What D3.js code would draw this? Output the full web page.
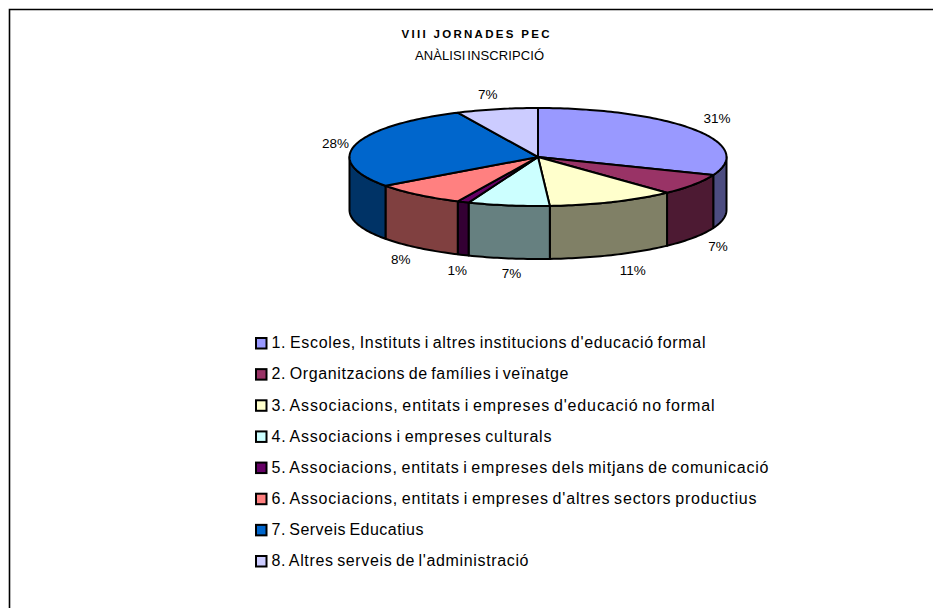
<!DOCTYPE html>
<html>
<head>
<meta charset="utf-8">
<script src="https://cdnjs.cloudflare.com/ajax/libs/d3/7.8.5/d3.min.js"></script>
<style>
    html, body { margin: 0; padding: 0; background: #fff; }
    svg { display: block; }
    text { font-family: "Liberation Sans", Arial, sans-serif; fill: #000; }
</style>
</head>
<body>
<script>
const width = 933;
const height = 608;

const categories = [
    "1. Escoles, Instituts i altres institucions d'educació formal",
    "2. Organitzacions de famílies i veïnatge",
    "3. Associacions, entitats i empreses d'educació no formal",
    "4. Associacions i empreses culturals",
    "5. Associacions, entitats i empreses dels mitjans de comunicació",
    "6. Associacions, entitats i empreses d'altres sectors productius",
    "7. Serveis Educatius",
    "8. Altres serveis de l'administració"
];
const values = [31, 7, 11, 7, 1, 8, 28, 7];
const top_colors = ['#9999ff', '#993366', '#ffffcc', '#ccffff', '#660066', '#ff8080', '#0066cc', '#ccccff'];
const side_colors = ['#4c4c80', '#4d1a33', '#808066', '#668080', '#330033', '#804040', '#003366', '#666680'];

// nudges of the % labels away from the rim of their slice
const label_nudge = [[23, -11], [24, 8], [20, 15], [3, 15], [-6, 15], [-17, 11], [-20, -2], [-9, -15]];
// legend text runs wider on some rows than others, so fit each one
const legend_text_width = [434, 297, 443, 280, 497, 485, 152, 257];

// pie geometry, tilted ellipse plus wall height
const cx = 538, cy = 157, rx = 188.5, ry = 49, depth = 53;

const svg = d3.select('body').append('svg')
    .attr('width', width)
    .attr('height', height);

// the frame only has its top and left edges, the rest is cropped away
svg.append('path')
    .attr('d', d3.line()([[9.5, height], [9.5, 9.5], [width, 9.5]]))
    .attr('fill', 'none')
    .attr('stroke', '#000')
    .attr('stroke-width', 1.6);

svg.append('text')
    .attr('x', 401.5).attr('y', 37.5)
    .style('font-size', '11.5px')
    .style('font-weight', 'bold')
    .style('letter-spacing', '2.3px')
    .text('VIII JORNADES PEC');

svg.append('text')
    .attr('x', 415).attr('y', 59.5)
    .style('font-size', '13px')
    .style('letter-spacing', '0.1px')
    .style('word-spacing', '-2px')
    .text('ANÀLISI INSCRIPCIÓ');

const arcs = d3.pie().sort(null)(values);

const px = (a) => cx + rx * Math.sin(a);
const py = (a) => cy - ry * Math.cos(a);

function rim(a0, a1) {
    const n = Math.max(2, Math.ceil((a1 - a0) / 0.02));
    return d3.range(n + 1).map((i) => a0 + (a1 - a0) * i / n);
}

const line = d3.line();

// walls of the slices facing the viewer
const walls = arcs
    .map((d, i) => ({
        i: i,
        a0: Math.max(d.startAngle, Math.PI / 2),
        a1: Math.min(d.endAngle, Math.PI * 3 / 2)
    }))
    .filter((d) => d.a1 > d.a0);

svg.append('g').selectAll('path')
    .data(walls)
    .enter()
    .append('path')
        .attr('d', (d) => {
            const upper = rim(d.a0, d.a1).map((a) => [px(a), py(a)]);
            const lower = rim(d.a0, d.a1).reverse().map((a) => [px(a), py(a) + depth]);
            return line(upper.concat(lower)) + 'Z';
        })
        .attr('fill', (d) => side_colors[d.i])
        .attr('stroke', '#000')
        .attr('stroke-width', 2)
        .attr('stroke-linejoin', 'round');

svg.append('g').selectAll('path')
    .data(arcs)
    .enter()
    .append('path')
        .attr('d', (d) => {
            const pts = rim(d.startAngle, d.endAngle).map((a) => [px(a), py(a)]);
            return line([[cx, cy]].concat(pts)) + 'Z';
        })
        .attr('fill', (d, i) => top_colors[i])
        .attr('stroke', '#000')
        .attr('stroke-width', 2)
        .attr('stroke-linejoin', 'round');

svg.append('g').selectAll('text')
    .data(arcs)
    .enter()
    .append('text')
        .attr('x', (d, i) => px((d.startAngle + d.endAngle) / 2) + label_nudge[i][0])
        .attr('y', (d, i) => {
            const mid = (d.startAngle + d.endAngle) / 2;
            const front = Math.cos(mid) < 0 ? depth : 0;
            return py(mid) + front + label_nudge[i][1] + 5;
        })
        .attr('text-anchor', 'middle')
        .style('font-size', '13.5px')
        .text((d) => d.value + '%');

const legend_y = d3.scalePoint()
    .domain(categories)
    .range([343, 561]);

const legend = svg.append('g').selectAll('g')
    .data(categories)
    .enter()
    .append('g')
        .attr('transform', (d) => `translate(256,${legend_y(d)})`);

legend.append('rect')
    .attr('y', -5)
    .attr('width', 10.5).attr('height', 10.5)
    .attr('fill', (d, i) => top_colors[i])
    .attr('stroke', '#000')
    .attr('stroke-width', 2);

legend.append('text')
    .attr('x', 15.5)
    .attr('y', 5.3)
    .attr('textLength', (d, i) => legend_text_width[i])
    .attr('lengthAdjust', 'spacing')
    .style('font-size', '16px')
    .style('word-spacing', '-1.5px')
    .text((d) => d);
</script>
</body>
</html>
